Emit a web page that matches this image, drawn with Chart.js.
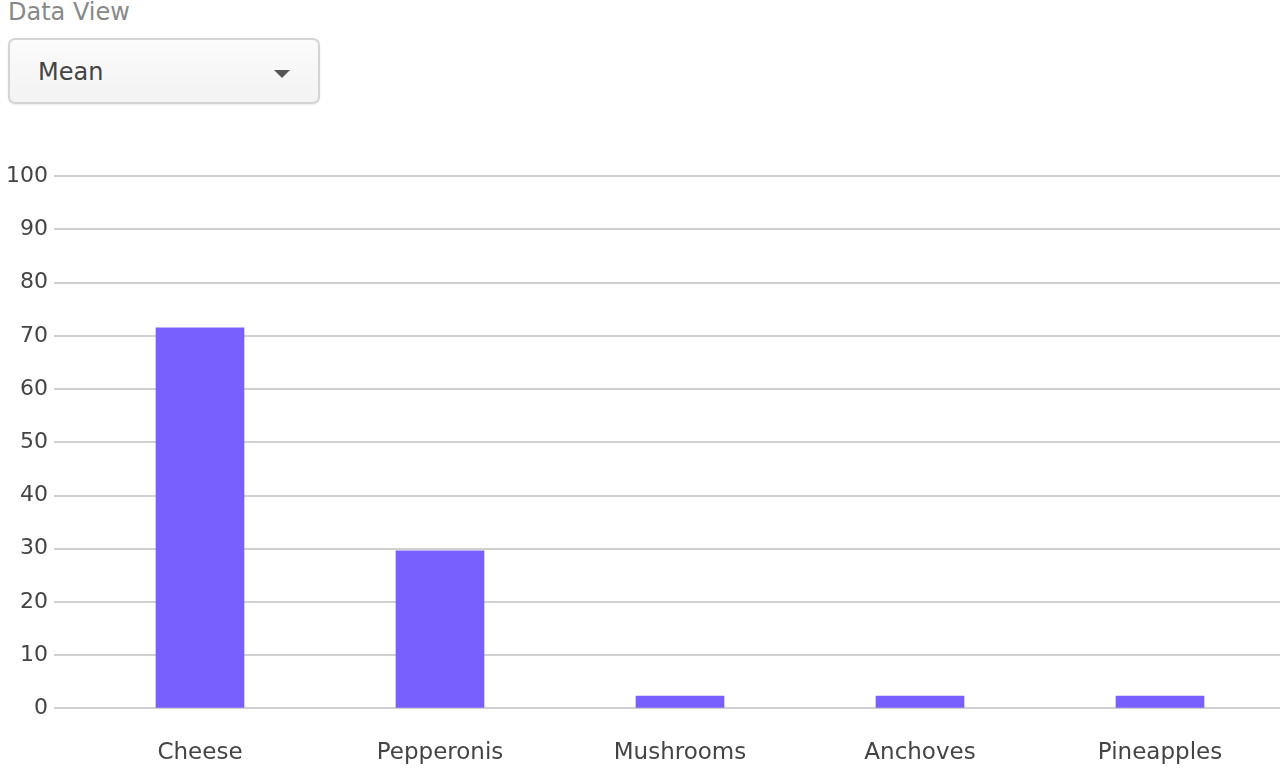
<!DOCTYPE html>
<html>
<head>
<meta charset="utf-8">
<script src="https://cdn.jsdelivr.net/npm/chart.js@4.4.0/dist/chart.umd.min.js"></script>
<style>
    html, body { margin: 0; background: #fff; overflow: hidden; font-family: "DejaVu Sans", sans-serif; }
    .view-label { position: absolute; left: 8px; top: -2px; font-size: 24px; color: #888; }
    .dropdown {
        position: absolute; left: 8px; top: 38px; width: 312px; height: 66px;
        border: 2px solid #d4d4d4; border-radius: 7px; box-sizing: border-box;
        background: linear-gradient(#fbfbfb, #f3f3f3);
        box-shadow: 0 1px 2px rgba(0,0,0,0.08);
    }
    .dropdown span { position: absolute; left: 28px; top: 18px; font-size: 24px; color: #444; }
    .dropdown .caret {
        position: absolute; left: 264px; top: 30px; width: 0; height: 0;
        border-left: 8px solid transparent; border-right: 8px solid transparent; border-top: 8px solid #555;
    }
    .chart-wrap { position: absolute; left: 0; top: 157px; width: 1280px; height: 635px; }
</style>
</head>
<body>
<div class="view-label">Data View</div>
<div class="dropdown"><span>Mean</span><div class="caret"></div></div>
<div class="chart-wrap"><canvas id="pizzaChart"></canvas></div>
<script>
const categories = ["Cheese", "Pepperonis", "Mushrooms", "Anchoves", "Pineapples"];
const meanValues = [71.5, 29.6, 2.3, 2.3, 2.3];
const yTicks = [0, 10, 20, 30, 40, 50, 60, 70, 80, 90, 100];

document.addEventListener("DOMContentLoaded", () => {
    const ctx = document.getElementById("pizzaChart").getContext("2d");
    new Chart(ctx, {
        type: "bar",
        data: {
            labels: categories,
            datasets: [
                {
                    data: meanValues,
                    backgroundColor: "#7860ff",
                    borderWidth: 0,
                    barThickness: 88
                }
            ]
        },
        options: {
            responsive: true,
            maintainAspectRatio: false,
            animation: false,
            layout: { padding: { top: 15, right: 0, bottom: 2, left: 0 } },
            plugins: {
                legend: { display: false },
                tooltip: { enabled: false }
            },
            scales: {
                x: {
                    grid: { display: false },
                    border: { display: false },
                    ticks: {
                        color: "#444",
                        font: { family: "DejaVu Sans", size: 23 },
                        padding: 23,
                        maxRotation: 0
                    }
                },
                y: {
                    min: yTicks[0],
                    max: yTicks[yTicks.length - 1],
                    afterBuildTicks: (axis) => {
                        axis.ticks = yTicks.map(v => ({ value: v }));
                    },
                    grid: {
                        color: "#d0d0d0",
                        lineWidth: 2,
                        tickLength: 26
                    },
                    border: { display: false },
                    ticks: {
                        color: "#444",
                        font: { family: "DejaVu Sans", size: 22 },
                        padding: 6
                    }
                }
            }
        }
    });
});
</script>
</body>
</html>
